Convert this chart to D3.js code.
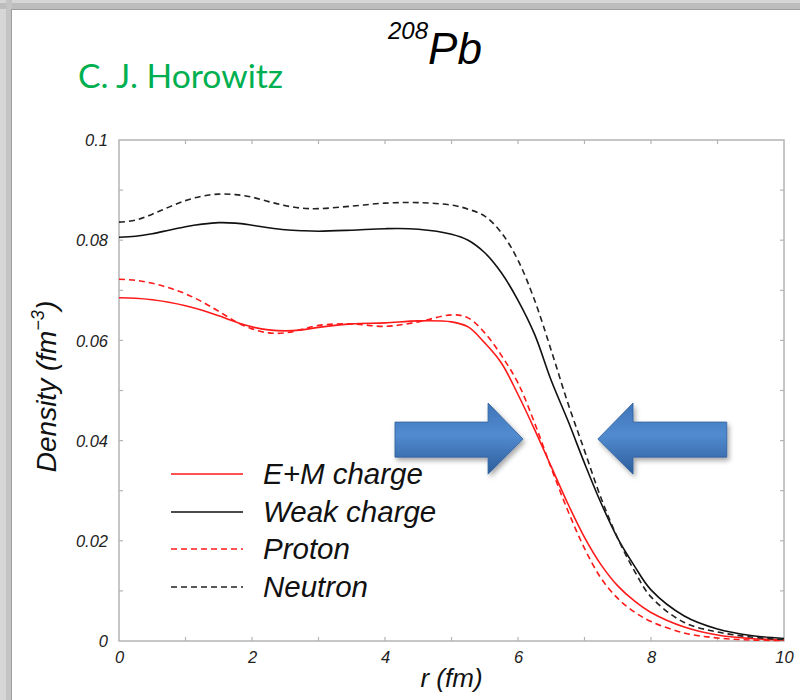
<!DOCTYPE html>
<html><head><meta charset="utf-8">
<script src="https://cdn.jsdelivr.net/npm/d3@7"></script>
<style>html,body{margin:0;padding:0;background:#fff;}svg{display:block;}</style>
</head><body>
<svg id="c" width="800" height="700"></svg>
<script>
const radius = [0,0.25,0.5,0.75,1,1.25,1.5,1.75,2,2.25,2.5,2.75,3,3.5,4,4.5,5,5.25,5.5,5.75,6,6.25,6.5,6.75,7,7.25,7.5,7.75,8,8.5,9,9.5,10];
const emCharge = [0.0685,0.0684,0.0681,0.0676,0.0669,0.0660,0.0649,0.0637,0.0627,0.0621,0.0619,0.0621,0.0626,0.0633,0.0635,0.0639,0.0637,0.0627,0.0595,0.0555,0.0492,0.0422,0.0348,0.0274,0.0207,0.0152,0.0110,0.0080,0.0057,0.0028,0.0012,0.0005,0.0002];
const weakCharge = [0.0806,0.0808,0.0813,0.0820,0.0827,0.0832,0.0835,0.0834,0.0830,0.0825,0.0821,0.0819,0.0818,0.0820,0.0823,0.0822,0.0812,0.0800,0.0775,0.0735,0.0680,0.0612,0.0520,0.0440,0.0355,0.0275,0.0205,0.0150,0.0102,0.0050,0.0024,0.0011,0.0005];
const proton = [0.0722,0.0720,0.0714,0.0705,0.0693,0.0677,0.0658,0.0638,0.0623,0.0615,0.0615,0.0622,0.0630,0.0633,0.0628,0.0637,0.0651,0.0645,0.0615,0.0570,0.0515,0.0435,0.0345,0.0260,0.0185,0.0125,0.0085,0.0058,0.0039,0.0016,0.0006,0.0002,0.0001];
const neutron = [0.0836,0.0840,0.0852,0.0866,0.0879,0.0888,0.0892,0.0891,0.0886,0.0877,0.0869,0.0864,0.0863,0.0868,0.0874,0.0875,0.0870,0.0862,0.0848,0.0815,0.0760,0.0680,0.0580,0.0475,0.0380,0.0285,0.0205,0.0140,0.0088,0.0037,0.0018,0.0008,0.0003];
const xTicks = [0,2,4,6,8,10];
const yTicks = [0,0.02,0.04,0.06,0.08,0.1];
const yTickLabels = ["0","0.02","0.04","0.06","0.08","0.1"];
const seriesNames = ["E+M charge","Weak charge","Proton","Neutron"];

const svg = d3.select("#c");
svg.append("rect").attr("x",0).attr("y",0).attr("width",800).attr("height",700).attr("fill","#d6d6d6");
svg.append("rect").attr("x",0).attr("y",3).attr("width",800).attr("height",6).attr("fill","#bdbdbd");
svg.append("rect").attr("x",6).attr("y",0).attr("width",6).attr("height",700).attr("fill","#c4c4c4");
svg.append("rect").attr("x",11).attr("y",9).attr("width",789).attr("height",691).attr("fill","#9e9e9e");
svg.append("rect").attr("x",12).attr("y",10).attr("width",788).attr("height",690).attr("fill","#ffffff");

const defs = svg.append("defs");
const grad = defs.append("linearGradient").attr("id","ag").attr("x1",0).attr("y1",0).attr("x2",0).attr("y2",1);
grad.append("stop").attr("offset","0%").attr("stop-color","#3f74b8");
grad.append("stop").attr("offset","45%").attr("stop-color","#528bd0");
grad.append("stop").attr("offset","100%").attr("stop-color","#2c5c9a");
const sh = defs.append("filter").attr("id","sh").attr("x","-20%").attr("y","-20%").attr("width","140%").attr("height","150%");
sh.append("feDropShadow").attr("dx",2).attr("dy",3).attr("stdDeviation",2.5).attr("flood-color","#000").attr("flood-opacity",0.35);

const x = d3.scaleLinear().domain([0,10]).range([119,784]);
const y = d3.scaleLinear().domain([0,0.1]).range([641,140]);

const axisColor = "#b4b4b4";
svg.append("rect").attr("x",x(0)).attr("y",y(0.1)).attr("width",x(10)-x(0)).attr("height",y(0)-y(0.1))
  .attr("fill","none").attr("stroke",axisColor).attr("stroke-width",1.5);
const minorX = d3.range(1,10,1);
const minorY = d3.range(0.01,0.1,0.01);
const tg = svg.append("g").attr("stroke",axisColor).attr("stroke-width",1.2);
minorX.forEach(v=>{
  tg.append("line").attr("x1",x(v)).attr("x2",x(v)).attr("y1",y(0)).attr("y2",y(0)-4);
  tg.append("line").attr("x1",x(v)).attr("x2",x(v)).attr("y1",y(0.1)).attr("y2",y(0.1)+4);
});
minorY.forEach(v=>{
  tg.append("line").attr("x1",x(0)).attr("x2",x(0)+4).attr("y1",y(v)).attr("y2",y(v));
  tg.append("line").attr("x1",x(10)).attr("x2",x(10)-4).attr("y1",y(v)).attr("y2",y(v));
});

const tickFont = "'Liberation Sans', Arial, Helvetica, sans-serif";
const xAxis = d3.axisBottom(x).tickValues(xTicks).tickSize(0).tickPadding(0).tickFormat(d3.format("d"));
const gx = svg.append("g").attr("transform",`translate(0,${y(0)})`).call(xAxis);
gx.select(".domain").remove();
gx.selectAll("text").attr("y",22).attr("dy",0).attr("font-family",tickFont).attr("font-style","italic").attr("font-size",16.5).attr("fill","#222");
const yAxis = d3.axisLeft(y).tickValues(yTicks).tickSize(0).tickPadding(0).tickFormat((d,i)=>yTickLabels[i]);
const gy = svg.append("g").attr("transform",`translate(${x(0)},0)`).call(yAxis);
gy.select(".domain").remove();
gy.selectAll("text").attr("x",-11).attr("dy","0.35em").attr("font-family",tickFont).attr("font-style","italic").attr("font-size",16.5).attr("fill","#222");

const series = [
  {vals: emCharge, color:"#ff1a1a", dash:null},
  {vals: weakCharge, color:"#111", dash:null},
  {vals: proton, color:"#ff1a1a", dash:"6,4"},
  {vals: neutron, color:"#222", dash:"6,4"}
];
const line = d3.line().x(d=>x(d[0])).y(d=>y(d[1])).curve(d3.curveCatmullRom.alpha(0.5));
series.forEach(s=>{
  svg.append("path").datum(radius.map((r,i)=>[r,s.vals[i]]))
    .attr("d",line).attr("fill","none").attr("stroke",s.color).attr("stroke-width",1.6)
    .attr("stroke-dasharray",s.dash);
});

function arrowPath(x0,xb,xt,yTip,yb1,yb2,yh1,yh2){
  return `M${x(x0)},${y(yb1)} L${x(xb)},${y(yb1)} L${x(xb)},${y(yh1)} L${x(xt)},${y(yTip)} L${x(xb)},${y(yh2)} L${x(xb)},${y(yb2)} L${x(x0)},${y(yb2)} Z`;
}
const ag = svg.append("g").attr("filter","url(#sh)");
ag.append("path").attr("d",arrowPath(4.15,5.55,6.075,0.0403,0.0437,0.0367,0.0475,0.0333))
  .attr("fill","url(#ag)").attr("stroke","#2f5f9c").attr("stroke-width",0.8);
ag.append("path").attr("d",arrowPath(9.14,7.73,7.2,0.0403,0.0437,0.0367,0.0475,0.0333))
  .attr("fill","url(#ag)").attr("stroke","#2f5f9c").attr("stroke-width",0.8);

const legendRows = [474,512,549,587];
series.forEach((s,i)=>{
  svg.append("line").attr("x1",171).attr("x2",243).attr("y1",legendRows[i]).attr("y2",legendRows[i])
    .attr("stroke",s.color).attr("stroke-width",1.6).attr("stroke-dasharray",s.dash);
  svg.append("text").attr("x",263).attr("y",legendRows[i]+10).text(seriesNames[i])
    .attr("font-family",tickFont).attr("font-style","italic").attr("font-size",29.5).attr("fill","#111");
});

svg.append("text").attr("x",(x(0)+x(10))/2).attr("y",687).attr("text-anchor","middle")
  .attr("font-family",tickFont).attr("font-style","italic").attr("font-size",26).attr("fill","#111").text("r (fm)");
const yt = svg.append("text").attr("transform",`translate(56,${(y(0)+y(0.1))/2 - 4}) rotate(-90)`).attr("text-anchor","middle")
  .attr("font-family",tickFont).attr("font-style","italic").attr("font-size",28).attr("fill","#111");
yt.append("tspan").text("Density (fm");
yt.append("tspan").attr("font-size",18).attr("dy",-12).text("−3");
yt.append("tspan").attr("dy",12).text(")");

const tt = svg.append("text").attr("x",388).attr("y",64).attr("font-family",tickFont).attr("font-style","italic").attr("fill","#000");
tt.append("tspan").attr("font-size",24).attr("dy",-25).text("208");
tt.append("tspan").attr("font-size",44).attr("dy",25).text("Pb");

svg.append("text").attr("x",78).attr("y",88).attr("font-family","Lato, 'Open Sans', sans-serif").attr("font-size",32)
  .attr("fill","#00b050").attr("textLength",205).attr("lengthAdjust","spacingAndGlyphs").text("C. J. Horowitz");
</script>
</body></html>
